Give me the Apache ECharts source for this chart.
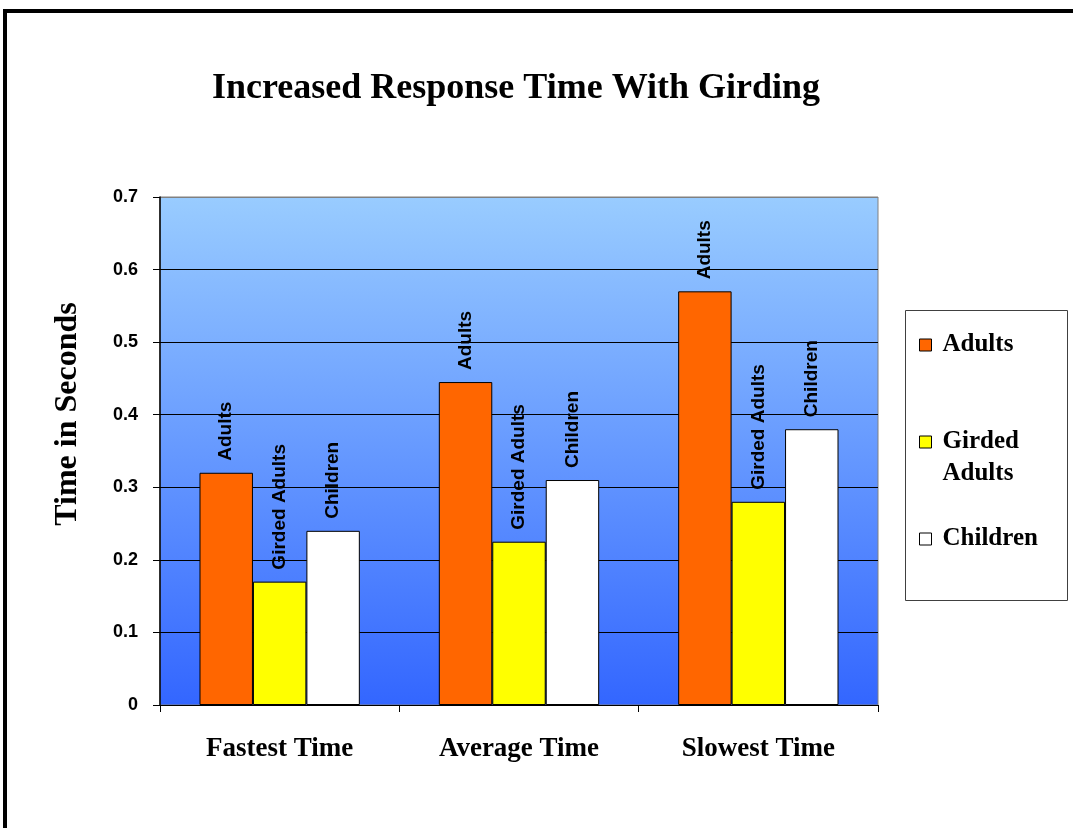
<!DOCTYPE html>
<html>
<head>
<meta charset="utf-8">
<script src="https://cdn.jsdelivr.net/npm/echarts@6/dist/echarts.min.js"></script>
<style>
html,body{margin:0;padding:0;background:#fff;}
#chart{width:1073px;height:828px;}
</style>
</head>
<body>
<div id="chart"></div>
<script>
const categories = ['Fastest Time', 'Average Time', 'Slowest Time'];
const seriesNames = ['Adults', 'Girded Adults', 'Children'];
const adults = [0.32, 0.445, 0.57];
const girdedAdults = [0.17, 0.225, 0.28];
const children = [0.24, 0.31, 0.38];
const yTicks = [0, 0.1, 0.2, 0.3, 0.4, 0.5, 0.6, 0.7];

const seriesData = [adults, girdedAdults, children];
const seriesColors = ['#FF6600', '#FFFF00', '#FFFFFF'];

const chart = echarts.init(document.getElementById('chart'), null, {renderer: 'canvas'});

const legendCommon = {
  orient: 'vertical',
  left: 919,
  icon: 'rect',
  itemWidth: 12,
  itemHeight: 12,
  selectedMode: false,
  itemStyle: {borderColor: '#000', borderWidth: 1},
  padding: 0,
  textStyle: {
    fontFamily: 'Liberation Serif',
    fontWeight: 'bold',
    fontSize: 25,
    lineHeight: 32,
    color: '#000',
    padding: [0, 0, 0, 6]
  }
};

const option = {
  backgroundColor: '#fff',
  animation: false,
  title: {
    text: 'Increased Response Time With Girding',
    left: 212,
    top: 71,
    padding: 0,
    textStyle: {fontFamily: 'Liberation Serif', fontWeight: 'bold', fontSize: 36, color: '#000'}
  },
  legend: [
    Object.assign({}, legendCommon, {top: 329, data: [seriesNames[0]]}),
    Object.assign({}, legendCommon, {top: 394, data: [seriesNames[1]],
      formatter: function () { return ' \nGirded\nAdults'; }}),
    Object.assign({}, legendCommon, {top: 523, data: [seriesNames[2]]})
  ],
  grid: {
    left: 160, right: 195, top: 197, bottom: 123,
    show: true,
    borderColor: '#808080',
    borderWidth: 1,
    backgroundColor: new echarts.graphic.LinearGradient(0, 0, 0, 1, [
      {offset: 0, color: '#99CCFF'},
      {offset: 1, color: '#3366FF'}
    ])
  },
  xAxis: {
    type: 'category',
    data: categories,
    axisLine: {lineStyle: {color: '#000', width: 1}},
    axisTick: {show: true, length: 7, lineStyle: {color: '#000'}},
    axisLabel: {margin: 31, fontFamily: 'Liberation Serif', fontWeight: 'bold', fontSize: 27, color: '#000'}
  },
  yAxis: {
    type: 'value',
    min: 0, max: 0.7, interval: 0.1,
    name: 'Time in Seconds',
    nameLocation: 'middle',
    nameRotate: 90,
    nameGap: 76,
    nameTextStyle: {fontFamily: 'Liberation Serif', fontWeight: 'bold', fontSize: 32, color: '#000', padding: [0, 0, 0, 74]},
    axisLine: {show: true, lineStyle: {color: '#000', width: 1.5}},
    axisTick: {show: true, length: 7, lineStyle: {color: '#000'}},
    axisLabel: {
      margin: 22, fontFamily: 'Liberation Sans', fontWeight: 'bold', fontSize: 18, color: '#000',
      formatter: function (v) { const t = yTicks.find(x => Math.abs(x - v) < 1e-9); return String(t !== undefined ? t : v); }
    },
    splitLine: {show: true, lineStyle: {color: ['#000','#000','#000','#000','#000','#000','#000','#808080'], width: 1.2}}
  },
  series: seriesNames.map((name, i) => ({
    name: name,
    type: 'bar',
    data: seriesData[i],
    barGap: '0%',
    barCategoryGap: '33%',
    itemStyle: {color: seriesColors[i], borderColor: '#000', borderWidth: 1},
    label: {
      show: true,
      position: 'top',
      rotate: 90,
      align: 'left',
      verticalAlign: 'middle',
      distance: 12,
      formatter: '{a}',
      fontFamily: 'Liberation Sans',
      fontWeight: 'bold',
      fontSize: 19,
      color: '#000'
    }
  })),
  graphic: [
    {type: 'rect', left: 903, top: 308, shape: {width: 162, height: 290}, style: {fill: 'none', stroke: '#404040', lineWidth: 1}, z: 1},
    {type: 'line', shape: {x1: 3, y1: 11, x2: 1073, y2: 11}, style: {stroke: '#000', lineWidth: 4}},
    {type: 'line', shape: {x1: 5, y1: 9, x2: 5, y2: 828}, style: {stroke: '#000', lineWidth: 4}}
  ]
};
chart.setOption(option);
</script>
</body>
</html>
